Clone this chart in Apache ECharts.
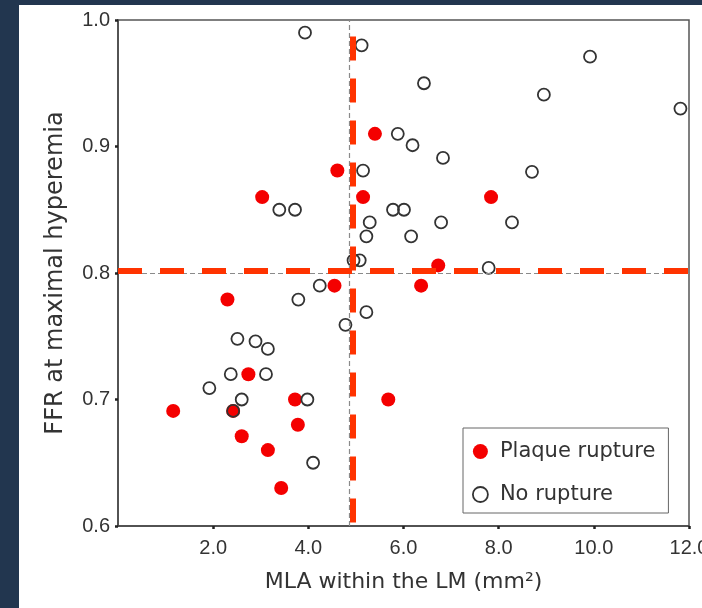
<!DOCTYPE html>
<html>
<head>
<meta charset="utf-8">
<script src="https://cdn.jsdelivr.net/npm/echarts@6/dist/echarts.min.js"></script>
<style>
html,body{margin:0;padding:0;width:702px;height:608px;overflow:hidden;background:#22364f;}
#c{position:absolute;left:19px;top:5px;width:683px;height:603px;background:#ffffff;}
</style>
</head>
<body>
<div id="c"></div>
<script>
// ---- data ----
const ruptureX = [2.30, 2.74, 1.16, 2.42, 3.72, 3.78, 2.60, 3.15, 3.43, 5.40, 4.61, 3.03, 5.15, 4.55, 6.37, 6.73, 7.84, 5.68];
const ruptureY = [0.779, 0.720, 0.691, 0.691, 0.700, 0.680, 0.671, 0.660, 0.630, 0.910, 0.881, 0.860, 0.860, 0.790, 0.790, 0.806, 0.860, 0.700];

const noRuptureX = [3.79, 4.24, 2.51, 2.89, 3.15, 2.37, 3.11, 1.92, 2.60, 3.98, 2.42, 4.10,
                    5.88, 6.19, 6.83, 5.15, 3.39, 3.72, 5.78, 6.01, 5.29, 6.79, 5.22, 6.16,
                    4.95, 5.08, 5.22, 4.78, 9.92, 6.43, 8.95, 11.82, 8.70, 8.28, 7.79, 3.93, 5.12];
const noRuptureY = [0.779, 0.790, 0.748, 0.746, 0.740, 0.720, 0.720, 0.709, 0.700, 0.700, 0.691, 0.650,
                    0.910, 0.901, 0.891, 0.881, 0.850, 0.850, 0.850, 0.850, 0.840, 0.840, 0.829, 0.829,
                    0.810, 0.810, 0.769, 0.759, 0.971, 0.950, 0.941, 0.930, 0.880, 0.840, 0.804, 0.990, 0.980];

const seriesNames = ['Plaque rupture', 'No rupture'];
const xTickValues = [2, 4, 6, 8, 10, 12];
const xTickLabels = ['2.0', '4.0', '6.0', '8.0', '10.0', '12.0'];
const yTickValues = [0.6, 0.7, 0.8, 0.9, 1.0];
const yTickLabels = ['0.6', '0.7', '0.8', '0.9', '1.0'];
const xTitle = 'MLA within the LM (mm\u00B2)';
const yTitle = 'FFR at maximal hyperemia';

// reference (cut-off) lines
const grayCutX = 4.87, grayCutY = 0.80;
const redCutX = 4.94, redCutY = 0.8018;
const redVTop = 0.987;

// ---- chart ----
const chart = echarts.init(document.getElementById('c'), null, {renderer: 'canvas'});
const zip = (a, b) => a.map((v, i) => [v, b[i]]);
const lbl = (vals, labels) => v => {
  const i = vals.findIndex(t => Math.abs(t - v) < 1e-6);
  return i >= 0 ? labels[i] : '';
};
const axisCol = '#444';

chart.setOption({
  animation: false,
  grid: {left: 99, top: 15, width: 571, height: 506, show: true, containLabel: false, outerBoundsMode: 'none',
         borderColor: '#555', borderWidth: 1.5, backgroundColor: 'transparent'},
  xAxis: {
    type: 'value', min: 0, max: 12, interval: 2,
    name: xTitle, nameLocation: 'middle', nameGap: 45,
    nameTextStyle: {fontFamily: 'DejaVu Sans', fontSize: 22, color: '#333'},
    axisLine: {show: true, lineStyle: {color: axisCol, width: 1.5}},
    axisTick: {show: true, length: 3, lineStyle: {color: '#222', width: 2.5}},
    axisLabel: {show: true, showMinLabel: false, margin: 12, fontFamily: 'Liberation Sans', fontSize: 20, color: '#333',
      formatter: lbl(xTickValues, xTickLabels)},
    splitLine: {show: false}
  },
  yAxis: {
    type: 'value', min: 0.6, max: 1.0, interval: 0.1,
    name: yTitle, nameLocation: 'middle', nameGap: 50,
    nameTextStyle: {fontFamily: 'DejaVu Sans', fontSize: 24, color: '#333'},
    axisLine: {show: true, lineStyle: {color: axisCol, width: 1.5}},
    axisTick: {show: true, length: 3, lineStyle: {color: '#222', width: 2.5}},
    axisLabel: {show: true, margin: 8, fontFamily: 'Liberation Sans', fontSize: 20, color: '#333',
      formatter: lbl(yTickValues, yTickLabels)},
    splitLine: {show: false}
  },
  legend: {
    orient: 'vertical', left: 444, top: 423,
    padding: [13, 13, 8, 9], itemGap: 22, itemWidth: 15, itemHeight: 15,
    borderColor: '#666', borderWidth: 1, backgroundColor: '#fff',
    textStyle: {fontFamily: 'DejaVu Sans', fontSize: 21, color: '#333', padding: [0, 0, 0, 7]},
    data: [
      {name: seriesNames[0], icon: 'circle'},
      {name: seriesNames[1], icon: 'circle', itemStyle: {color: '#fff', borderColor: '#333', borderWidth: 1.8}}
    ]
  },
  series: [
    {
      name: 'cutoffs', type: 'scatter', data: [], silent: true, z: 1,
      markLine: {
        silent: true, symbol: 'none', label: {show: false}, animation: false,
        lineStyle: {color: '#8a8a8a', width: 1.2, type: [5, 3]},
        data: [
          [{coord: [grayCutX, 0.6]}, {coord: [grayCutX, 1.0]}],
          [{coord: [0, grayCutY]}, {coord: [12, grayCutY]}]
        ]
      }
    },
    {
      name: seriesNames[0], type: 'scatter', symbol: 'circle', symbolSize: 14, z: 2,
      itemStyle: {color: '#f40000', opacity: 1},
      data: zip(ruptureX, ruptureY)
    },
    {
      name: seriesNames[1], type: 'scatter', symbol: 'circle', symbolSize: 12, z: 3,
      itemStyle: {color: 'rgba(255,255,255,0)', borderColor: '#333', borderWidth: 1.8, opacity: 1},
      data: zip(noRuptureX, noRuptureY)
    },
    {
      name: 'redlines', type: 'scatter', data: [], silent: true, z: 4,
      markLine: {
        silent: true, symbol: 'none', label: {show: false}, animation: false,
        lineStyle: {color: '#ff3300', width: 6, type: [24, 18]},
        data: [
          [{coord: [redCutX, redVTop]}, {coord: [redCutX, 0.6]}],
          [{coord: [0, redCutY]}, {coord: [12, redCutY]}]
        ]
      }
    }
  ]
});
</script>
</body>
</html>
